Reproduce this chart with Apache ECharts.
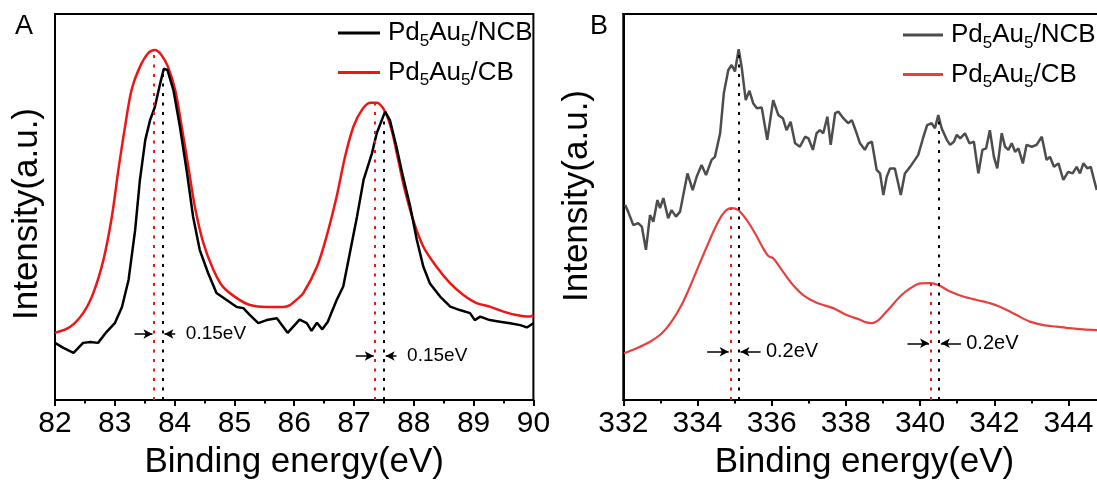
<!DOCTYPE html>
<html>
<head>
<meta charset="utf-8">
<script src="https://cdn.jsdelivr.net/npm/echarts@6/dist/echarts.min.js"></script>
<style>
  html, body { margin: 0; padding: 0; background: #fff; }
  #chart { width: 1097px; height: 484px; }
</style>
</head>
<body>
<div id="chart"></div>
<script>
// ---- Au 4f spectra: [binding energy (eV), intensity (a.u.)] ----
const auNCB = [
  [82.00,14.8],[82.14,13.5],[82.31,12.2],[82.47,14.8],[82.59,15.0],[82.72,14.8],[82.86,17.6],
  [83.00,19.9],[83.12,24.1],[83.23,31.1],[83.34,44.0],[83.42,57.0],[83.51,67.4],[83.59,72.5],
  [83.67,75.9],[83.76,82.1],[83.82,85.8],[83.88,85.5],[83.98,80.3],[84.09,70.7],[84.20,59.6],
  [84.31,47.4],[84.42,38.9],[84.56,32.9],[84.70,27.7],[84.87,25.9],[85.04,24.1],[85.15,23.8],
  [85.26,22.0],[85.40,19.9],[85.54,20.7],[85.71,21.2],[85.89,17.4],[86.09,20.8],[86.21,19.9],
  [86.29,17.9],[86.38,20.0],[86.47,18.3],[86.56,20.2],[86.71,25.9],[86.82,29.4],[86.93,38.0],
  [87.05,47.5],[87.16,57.0],[87.30,63.9],[87.38,69.1],[87.52,74.7],[87.60,72.5],[87.71,65.6],
  [87.82,57.8],[87.94,50.1],[88.05,41.5],[88.16,34.5],[88.27,30.2],[88.44,26.8],[88.61,24.2],
  [88.77,23.3],[88.94,22.5],[89.02,20.7],[89.11,21.6],[89.27,20.7],[89.44,20.3],[89.61,19.9],
  [89.78,19.4],[89.89,18.8],[90.00,19.9]
];
const auCB = [
  [82.00,17.4],[82.25,18.9],[82.47,22.5],[82.64,27.7],[82.81,36.3],[82.95,47.4],[83.06,59.6],
  [83.17,70.7],[83.28,80.3],[83.42,86.3],[83.56,89.9],[83.67,90.7],[83.78,89.4],[83.89,86.3],
  [84.01,80.3],[84.12,70.7],[84.23,60.4],[84.34,50.0],[84.48,40.7],[84.65,33.7],[84.81,29.3],
  [85.04,26.4],[85.26,24.6],[85.54,24.1],[85.82,24.1],[85.93,24.6],[86.04,26.0],[86.15,27.6],
  [86.38,34.5],[86.54,42.3],[86.71,52.7],[86.85,63.0],[86.99,70.8],[87.13,75.1],[87.27,77.0],
  [87.38,77.0],[87.52,74.7],[87.63,69.9],[87.74,62.2],[87.85,54.4],[87.99,46.6],[88.16,39.7],
  [88.38,34.5],[88.61,30.2],[88.83,27.2],[89.05,25.1],[89.27,24.2],[89.50,22.9],[89.72,22.0],
  [89.94,21.6],[90.00,22.0]
];

// ---- Pd 3d spectra ----
const pdNCB = [
  [332.05,50.5],[332.13,48.8],[332.27,45.3],[332.40,45.8],[332.50,44.9],[332.61,38.9],[332.72,47.9],
  [332.81,46.2],[332.92,51.8],[332.99,49.7],[333.08,52.3],[333.21,47.1],[333.30,49.2],[333.42,47.5],
  [333.53,48.8],[333.73,58.7],[333.87,54.4],[333.98,57.9],[334.11,60.9],[334.23,58.3],[334.38,62.2],
  [334.47,63.0],[334.61,69.1],[334.71,79.5],[334.83,85.5],[334.92,86.8],[335.01,85.1],[335.11,90.9],
  [335.19,86.3],[335.30,77.7],[335.40,80.1],[335.50,76.9],[335.60,75.6],[335.73,75.8],[335.88,67.4],
  [336.04,77.7],[336.18,73.8],[336.30,73.0],[336.40,69.9],[336.51,72.1],[336.63,66.5],[336.76,65.6],
  [336.90,68.2],[336.99,67.8],[337.11,64.8],[337.21,69.1],[337.30,69.9],[337.39,69.1],[337.50,73.4],
  [337.59,66.1],[337.71,74.3],[337.80,74.7],[337.93,73.0],[338.06,71.7],[338.16,72.5],[338.29,69.1],
  [338.38,66.5],[338.51,64.8],[338.60,66.5],[338.70,66.9],[338.83,59.6],[338.92,58.7],[339.01,53.1],
  [339.10,57.8],[339.19,60.0],[339.32,60.0],[339.48,53.1],[339.59,58.7],[339.73,60.4],[339.86,62.2],
  [339.95,63.5],[340.09,68.2],[340.19,71.2],[340.31,71.7],[340.40,70.4],[340.49,73.8],[340.58,70.4],
  [340.72,67.4],[340.81,66.1],[340.91,66.9],[340.99,68.7],[341.08,67.8],[341.21,69.1],[341.33,66.5],
  [341.45,66.9],[341.57,58.7],[341.68,64.8],[341.78,65.2],[341.88,69.9],[341.99,63.0],[342.08,60.0],
  [342.20,69.1],[342.29,65.6],[342.38,64.8],[342.47,66.5],[342.56,64.3],[342.65,65.2],[342.77,61.3],
  [342.87,66.1],[343.01,65.6],[343.14,66.1],[343.28,68.2],[343.41,62.2],[343.50,63.0],[343.61,60.4],
  [343.73,61.3],[343.86,57.0],[343.99,59.1],[344.11,58.7],[344.22,60.4],[344.31,58.7],[344.40,61.3],
  [344.51,60.0],[344.60,60.4],[344.76,54.4]
];
const pdCB = [
  [332.02,12.1],[332.36,13.4],[332.72,15.1],[333.04,17.3],[333.30,20.3],[333.57,24.6],[333.80,29.4],
  [334.02,34.5],[334.25,39.7],[334.47,44.5],[334.70,48.4],[334.92,49.7],[335.10,49.2],[335.33,46.6],
  [335.55,43.2],[335.77,39.3],[335.91,37.3],[336.04,36.7],[336.27,33.7],[336.54,30.2],[336.85,27.2],
  [337.21,25.2],[337.66,23.8],[338.02,22.0],[338.38,20.8],[338.55,20.1],[338.70,19.9],[338.85,20.5],
  [339.00,21.9],[339.19,23.9],[339.46,26.8],[339.73,28.9],[340.00,30.2],[340.27,30.3],[340.49,29.8],
  [340.81,28.1],[341.16,26.8],[341.53,25.9],[341.88,25.1],[342.24,23.8],[342.60,22.0],[342.96,20.3],
  [343.32,19.4],[343.68,19.0],[344.04,18.6],[344.40,18.3],[344.77,18.1]
];

// Peak positions (eV)
const auPeakCB  = [83.65, 87.35];
const auPeakNCB = [83.80, 87.50];
const pdPeakCB  = [334.9, 340.3];
const pdPeakNCB = [335.1, 340.5];

// Series names
const auNames = ['Au 4f · Pd5Au5/NCB', 'Au 4f · Pd5Au5/CB'];
const pdNames = ['Pd 3d · Pd5Au5/NCB', 'Pd 3d · Pd5Au5/CB'];

// ---- styling ----
const FONT = '"Liberation Sans", Arial, Helvetica, sans-serif';
const C_BLACK = '#000000';
const C_RED_A = '#f01515';
const C_GRAY_B = '#4d4d4d';
const C_RED_B = '#e8403e';

// Interpolated intensity of a spectrum at energy x
function valueAt(spec, x) {
  for (let i = 1; i < spec.length; i++) {
    const [x0, y0] = spec[i - 1], [x1, y1] = spec[i];
    if (x >= x0 && x <= x1) return y0 + (y1 - y0) * (x - x0) / (x1 - x0);
  }
  return spec[spec.length - 1][1];
}

// Vertical dotted guides dropped from each peak to the axis
function peakGuides(peaks, spec, color) {
  return peaks.map(x => [
    { coord: [x, 0], symbol: 'none', lineStyle: { color: color, width: 2, type: [3, 6.5] } },
    { coord: [x, valueAt(spec, x)], symbol: 'none' }
  ]);
}

// Pairs of arrows pointing at the two peak positions, with the shift text
function shiftArrows(cbPeaks, ncbPeaks, levels, off) {
  const lines = [], texts = [];
  cbPeaks.forEach((cb, i) => {
    const ncb = ncbPeaks[i], y = levels[i];
    const style = { color: C_BLACK, width: 1.5, type: 'solid' };
    lines.push([
      { coord: [cb + off.ls, y], symbol: 'none', lineStyle: style },
      { coord: [cb + off.le, y], symbol: 'arrow', symbolSize: [7, 9] }
    ]);
    lines.push([
      { coord: [ncb + off.rs, y], symbol: 'none', lineStyle: style },
      { coord: [ncb + off.re, y], symbol: 'arrow', symbolSize: [7, 9] }
    ]);
    const shift = parseFloat((ncb - cb).toFixed(2));
    texts.push({ coord: [ncb + off.t, y], value: shift, label: { formatter: shift + 'eV' } });
  });
  return { lines, texts };
}

const arrowsA = shiftArrows(auPeakCB, auPeakNCB, [17.1, 11.4],
  { ls: -0.32, le: -0.02, rs: 0.21, re: 0.03, t: 0.38 });
const arrowsB = shiftArrows(pdPeakCB, pdPeakNCB, [12.5, 14.7],
  { ls: -0.64, le: -0.06, rs: 0.60, re: 0.06, t: 0.73 });

function legendLabel(name) {
  return name.split(' · ')[1].replace(/(\d)/g, '{s|$1}');
}

function makeLegend(names, left, top, width) {
  return {
    data: names, orient: 'vertical', left: left, top: top,
    itemWidth: width, itemHeight: 3, itemGap: 10, icon: 'rect',
    selectedMode: false, padding: 0,
    formatter: legendLabel,
    textStyle: {
      fontSize: 26, color: C_BLACK, fontFamily: FONT, padding: [0, 0, 0, 3],
      rich: { s: { fontSize: 17, color: C_BLACK, fontFamily: FONT, padding: [16, 0, 0, 0] } }
    }
  };
}

const axisLineStyle = { color: C_BLACK, width: 2 };

function xAxisMain(grid, min, max, interval, minor) {
  return {
    type: 'value', gridIndex: grid, min: min, max: max, interval: interval, position: 'bottom',
    axisLine: { show: true, onZero: false, lineStyle: axisLineStyle },
    axisTick: { show: true, inside: false, length: 6, lineStyle: axisLineStyle },
    minorTick: { show: minor, splitNumber: 2, length: 3.5, lineStyle: axisLineStyle },
    splitLine: { show: false },
    axisLabel: { fontSize: 30, color: C_BLACK, fontFamily: FONT, margin: 9, showMaxLabel: minor },
    name: 'Binding energy(eV)', nameLocation: 'middle', nameGap: 45,
    nameTextStyle: { fontSize: 35, color: C_BLACK, fontFamily: FONT }
  };
}

// Plain frame line along the top edge of a plot
function frameTop(grid, min, max) {
  return {
    type: 'value', gridIndex: grid, min: min, max: max, position: 'top',
    axisLine: { show: true, onZero: false, lineStyle: axisLineStyle },
    axisTick: { show: false }, axisLabel: { show: false }, splitLine: { show: false }
  };
}

function yAxisMain(grid, gap, namePadding) {
  return {
    type: 'value', gridIndex: grid, min: 0, max: 100,
    axisLine: { show: true, onZero: false, lineStyle: axisLineStyle },
    axisTick: { show: false }, axisLabel: { show: false }, splitLine: { show: false },
    name: 'Intensity(a.u.)', nameLocation: 'middle', nameGap: gap,
    nameTextStyle: { fontSize: 35, color: C_BLACK, fontFamily: FONT, padding: namePadding }
  };
}

const shiftLabel = (size) => ({
  symbol: 'circle', symbolSize: 1, silent: true,
  itemStyle: { color: 'rgba(0,0,0,0)' },
  label: { show: true, position: 'right', distance: 0, fontSize: size, color: C_BLACK, fontFamily: FONT }
});

const option = {
  animation: false,
  backgroundColor: '#ffffff',
  title: [
    { text: 'A', left: 15, top: 13, padding: 0, textStyle: { fontSize: 27, fontWeight: 'normal', color: C_BLACK, fontFamily: FONT } },
    { text: 'B', left: 590, top: 13, padding: 0, textStyle: { fontSize: 27, fontWeight: 'normal', color: C_BLACK, fontFamily: FONT } }
  ],
  legend: [
    makeLegend(auNames, 338, 20, 42),
    makeLegend(pdNames, 903, 22, 40)
  ],
  grid: [
    { left: 55, top: 14, width: 478.4, height: 386, show: true, borderColor: C_BLACK, borderWidth: 2,
      containLabel: false, outerBoundsMode: 'none' },
    { left: 623.3, top: 14, width: 482.3, height: 386, show: true, borderColor: C_BLACK, borderWidth: 2,
      containLabel: false, outerBoundsMode: 'none' }
  ],
  xAxis: [
    xAxisMain(0, 82, 90, 1, true),
    xAxisMain(1, 332, 345, 2, false),
    {
      // odd-eV minor ticks for the Pd 3d axis
      type: 'value', gridIndex: 1, min: 332, max: 345, interval: 1, position: 'bottom',
      axisLine: { show: false }, axisLabel: { show: false }, splitLine: { show: false },
      axisTick: { show: true, inside: false, length: 3.5, lineStyle: axisLineStyle }
    },
    frameTop(1, 332, 345)
  ],
  yAxis: [yAxisMain(0, 10, [0, 14, 0, 0]), yAxisMain(1, 28, [0, 0, 0, 22])],
  series: [
    {
      name: auNames[0], type: 'line', xAxisIndex: 0, yAxisIndex: 0, data: auNCB,
      showSymbol: false, symbol: 'none', color: C_BLACK,
      lineStyle: { color: C_BLACK, width: 2.5 }, z: 3,
      markLine: {
        silent: true, symbol: ['none', 'none'], label: { show: false },
        data: peakGuides(auPeakNCB, auNCB, C_BLACK).concat(arrowsA.lines)
      },
      markPoint: Object.assign(shiftLabel(19), { data: arrowsA.texts })
    },
    {
      name: auNames[1], type: 'line', xAxisIndex: 0, yAxisIndex: 0, data: auCB,
      showSymbol: false, symbol: 'none', smooth: 0.3, color: C_RED_A,
      lineStyle: { color: C_RED_A, width: 2.5 }, z: 2,
      markLine: {
        silent: true, symbol: ['none', 'none'], label: { show: false },
        data: peakGuides(auPeakCB, auCB, C_RED_A)
      }
    },
    {
      name: pdNames[0], type: 'line', xAxisIndex: 1, yAxisIndex: 1, data: pdNCB,
      showSymbol: false, symbol: 'none', color: C_GRAY_B,
      lineStyle: { color: C_GRAY_B, width: 2.5 }, z: 3,
      markLine: {
        silent: true, symbol: ['none', 'none'], label: { show: false },
        data: peakGuides(pdPeakNCB, pdNCB, C_BLACK).concat(arrowsB.lines)
      },
      markPoint: Object.assign(shiftLabel(20), { data: arrowsB.texts })
    },
    {
      name: pdNames[1], type: 'line', xAxisIndex: 1, yAxisIndex: 1, data: pdCB,
      showSymbol: false, symbol: 'none', smooth: 0.3, color: C_RED_B,
      lineStyle: { color: C_RED_B, width: 2.2 }, z: 2,
      markLine: {
        silent: true, symbol: ['none', 'none'], label: { show: false },
        data: peakGuides(pdPeakCB, pdCB, C_RED_A)
      }
    }
  ]
};

const chart = echarts.init(document.getElementById('chart'), null, { renderer: 'canvas' });
chart.setOption(option);
</script>
</body>
</html>
